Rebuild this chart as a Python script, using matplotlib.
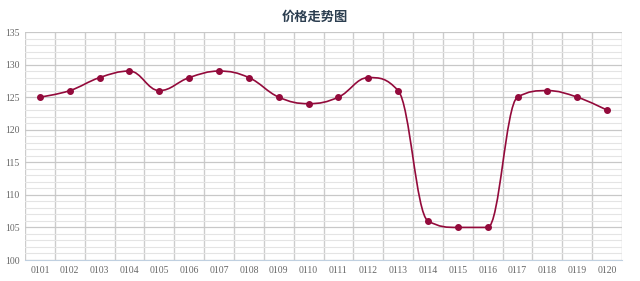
import numpy as np
import matplotlib.pyplot as plt
from matplotlib.path import Path
from matplotlib.patches import PathPatch

plt.rcParams['font.family'] = ['Noto Sans CJK SC', 'DejaVu Sans']

categories = ['0101', '0102', '0103', '0104', '0105', '0106', '0107', '0108', '0109', '0110',
              '0111', '0112', '0113', '0114', '0115', '0116', '0117', '0118', '0119', '0120']
prices = [125, 126, 128, 129, 126, 128, 129, 128, 125, 124,
          125, 128, 126, 106, 105, 105, 125, 126, 125, 123]

line_color = '#930a3b'


def spline_path(xs, ys, smoothing=1.5):
    # highcharts-style bezier spline
    n = len(xs)
    denom = smoothing + 1
    left = [(xs[i], ys[i]) for i in range(n)]
    right = [(xs[i], ys[i]) for i in range(n)]
    for i in range(1, n - 1):
        x, y = xs[i], ys[i]
        lx, ly = xs[i - 1], ys[i - 1]
        nx, ny = xs[i + 1], ys[i + 1]
        lcx = (smoothing * x + lx) / denom
        lcy = (smoothing * y + ly) / denom
        rcx = (smoothing * x + nx) / denom
        rcy = (smoothing * y + ny) / denom
        if rcx != lcx:
            corr = (rcy - lcy) * (rcx - x) / (rcx - lcx) + y - rcy
            lcy += corr
            rcy += corr
        if lcy > ly and lcy > y:
            lcy = max(ly, y)
            rcy = 2 * y - lcy
        elif lcy < ly and lcy < y:
            lcy = min(ly, y)
            rcy = 2 * y - lcy
        if rcy > ny and rcy > y:
            rcy = max(ny, y)
            lcy = 2 * y - rcy
        elif rcy < ny and rcy < y:
            rcy = min(ny, y)
            lcy = 2 * y - rcy
        left[i] = (lcx, lcy)
        right[i] = (rcx, rcy)
    verts = [(xs[0], ys[0])]
    codes = [Path.MOVETO]
    for i in range(1, n):
        verts += [right[i - 1], left[i], (xs[i], ys[i])]
        codes += [Path.CURVE4] * 3
    return Path(verts, codes)


fig = plt.figure(figsize=(6.4, 2.81), dpi=100)
ax = fig.add_axes([25 / 640, 21 / 281, 597 / 640, 228 / 281])

x = np.arange(len(categories))
ax.set_xlim(-0.5, len(categories) - 0.5)
ax.set_ylim(100, 135)

ax.set_yticks(np.arange(100, 136, 5))
ax.set_yticks(np.arange(100, 136, 1), minor=True)
ax.set_xticks(x)
ax.set_xticklabels(categories)
ax.set_xticks(np.arange(-0.5, len(categories), 1), minor=True)

ax.grid(which='minor', axis='y', color='#e4e4e4', linewidth=0.8)
ax.grid(which='major', axis='y', color='#c8c8c8', linewidth=0.9)
ax.grid(which='minor', axis='x', color='#cccccc', linewidth=1.0)
ax.set_axisbelow(True)

for s in ['top', 'right', 'left']:
    ax.spines[s].set_visible(False)
ax.spines['bottom'].set_color('#c0d0e0')

ax.tick_params(which='both', length=0)
ax.tick_params(axis='y', labelsize=7, labelcolor='#666666', pad=4)
ax.tick_params(axis='x', labelsize=7, labelcolor='#666666', pad=4)
for lab in ax.get_xticklabels() + ax.get_yticklabels():
    lab.set_family('Liberation Serif')

ax.add_patch(PathPatch(spline_path(list(x), prices), facecolor='none',
                       edgecolor=line_color, linewidth=1.2, zorder=3))
ax.scatter(x, prices, s=16, color=line_color, zorder=4)

fig.text(315 / 640, 1 - 17 / 281, '价格走势图', ha='center', va='center',
         fontsize=9.5, fontweight='bold', color='#2c3e50')

fig.savefig('out.png', dpi=100)
